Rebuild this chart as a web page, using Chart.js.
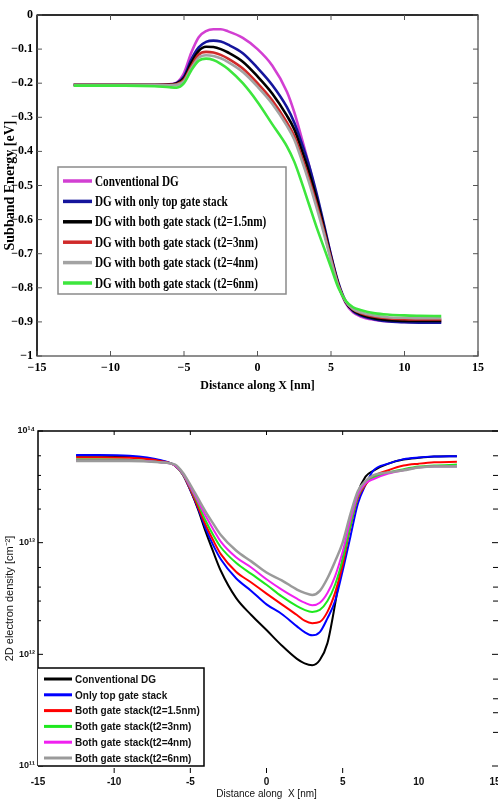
<!DOCTYPE html>
<html>
<head>
<meta charset="utf-8">
<script src="https://cdn.jsdelivr.net/npm/chart.js@4.4.1/dist/chart.umd.min.js"></script>
<style>
  html, body { margin: 0; padding: 0; background: #fff; }
  #topWrap { position: absolute; left: 0; top: 0; width: 498px; height: 400px; }
  #bottomWrap { position: absolute; left: 0; top: 400px; width: 498px; height: 408px; }
</style>
</head>
<body>
<div id="topWrap"><canvas id="energyChart"></canvas></div>
<div id="bottomWrap"><canvas id="densityChart"></canvas></div>
<script>
// --- top panel: subband energy [eV] along X [nm]
const energyX = [-12.5, -11, -9, -7, -6, -5.5, -5, -4.5, -4, -3.5, -3, -2.5, -2, -1, 0, 1, 2, 2.5, 3, 3.5, 4, 4.5, 5, 5.5, 6, 6.5, 7, 8, 9, 10, 11, 12.5];
const energyConventional = [-0.205, -0.205, -0.205, -0.205, -0.203, -0.198, -0.17, -0.11, -0.065, -0.047, -0.042, -0.042, -0.048, -0.067, -0.1, -0.148, -0.225, -0.285, -0.36, -0.44, -0.53, -0.615, -0.705, -0.79, -0.845, -0.872, -0.884, -0.894, -0.899, -0.9, -0.9, -0.9];
const energyTopStack = [-0.205, -0.205, -0.205, -0.205, -0.204, -0.2, -0.18, -0.13, -0.095, -0.079, -0.075, -0.078, -0.087, -0.112, -0.155, -0.205, -0.27, -0.315, -0.375, -0.44, -0.52, -0.61, -0.705, -0.785, -0.84, -0.868, -0.881, -0.893, -0.899, -0.901, -0.902, -0.902];
const energyBoth15 = [-0.205, -0.205, -0.205, -0.205, -0.204, -0.201, -0.185, -0.14, -0.105, -0.093, -0.094, -0.1, -0.11, -0.137, -0.18, -0.23, -0.295, -0.335, -0.395, -0.46, -0.535, -0.62, -0.71, -0.79, -0.842, -0.866, -0.878, -0.89, -0.895, -0.897, -0.897, -0.897];
const energyBoth3 = [-0.205, -0.205, -0.205, -0.205, -0.205, -0.203, -0.19, -0.15, -0.116, -0.108, -0.11, -0.117, -0.128, -0.157, -0.2, -0.25, -0.315, -0.355, -0.415, -0.48, -0.552, -0.63, -0.715, -0.792, -0.84, -0.863, -0.874, -0.885, -0.89, -0.892, -0.893, -0.893];
const energyBoth4 = [-0.205, -0.205, -0.205, -0.205, -0.206, -0.205, -0.194, -0.156, -0.125, -0.118, -0.12, -0.127, -0.138, -0.167, -0.21, -0.26, -0.325, -0.365, -0.425, -0.49, -0.562, -0.638, -0.72, -0.795, -0.84, -0.862, -0.872, -0.882, -0.887, -0.888, -0.889, -0.889];
const energyBoth6 = [-0.207, -0.207, -0.207, -0.209, -0.212, -0.213, -0.2, -0.162, -0.134, -0.128, -0.132, -0.143, -0.158, -0.2, -0.255, -0.32, -0.385, -0.43, -0.49, -0.555, -0.62, -0.68, -0.74, -0.8, -0.838, -0.857, -0.865, -0.875, -0.879, -0.881, -0.882, -0.883];
const energyLabels = ['Conventional DG', 'DG with only top gate stack', 'DG with both gate stack (t2=1.5nm)', 'DG with both gate stack (t2=3nm)', 'DG with both gate stack (t2=4nm)', 'DG with both gate stack (t2=6nm)'];

// --- bottom panel: 2D electron density [cm^-2] along X [nm]
const densityX = [-12.5, -11, -9, -7, -6, -5.5, -5, -4.5, -4, -3.5, -3, -2, -1, 0, 1, 2, 2.5, 3, 3.5, 4, 4.5, 5, 5.5, 6, 6.5, 7, 8, 9, 10, 11, 12.5];
const densityConventional = [6.0e13, 6.0e13, 5.9e13, 5.4e13, 4.9e13, 4.1e13, 2.95e13, 2.0e13, 1.26e13, 8.3e12, 5.6e12, 3.2e12, 2.25e12, 1.65e12, 1.2e12, 9.1e11, 8.3e11, 8.0e11, 8.9e11, 1.26e12, 2.8e12, 7.1e12, 1.4e13, 2.8e13, 3.9e13, 4.4e13, 5.1e13, 5.55e13, 5.75e13, 5.9e13, 5.95e13];
const densityTopStack = [6.1e13, 6.1e13, 6.0e13, 5.5e13, 4.9e13, 4.1e13, 2.95e13, 2.05e13, 1.35e13, 9.5e12, 7.1e12, 4.8e12, 3.7e12, 2.8e12, 2.3e12, 1.78e12, 1.58e12, 1.48e12, 1.58e12, 2.1e12, 3.0e12, 5.6e12, 1.12e13, 2.24e13, 3.3e13, 4.4e13, 5.1e13, 5.6e13, 5.8e13, 5.9e13, 5.95e13];
const densityBoth15 = [5.8e13, 5.8e13, 5.75e13, 5.4e13, 4.9e13, 4.1e13, 3.0e13, 2.1e13, 1.45e13, 1.05e13, 7.9e12, 5.5e12, 4.4e12, 3.5e12, 2.8e12, 2.25e12, 2.0e12, 1.9e12, 1.95e12, 2.4e12, 3.55e12, 6.3e12, 1.38e13, 2.5e13, 3.3e13, 3.9e13, 4.45e13, 4.9e13, 5.1e13, 5.25e13, 5.3e13];
const densityBoth3 = [5.55e13, 5.55e13, 5.5e13, 5.25e13, 4.9e13, 4.1e13, 3.1e13, 2.25e13, 1.58e13, 1.17e13, 9.1e12, 6.6e12, 5.25e12, 4.2e12, 3.3e12, 2.7e12, 2.5e12, 2.4e12, 2.5e12, 3.0e12, 4.2e12, 7.1e12, 1.41e13, 2.6e13, 3.4e13, 3.8e13, 4.25e13, 4.55e13, 4.8e13, 4.9e13, 5.0e13];
const densityBoth4 = [5.45e13, 5.45e13, 5.45e13, 5.25e13, 4.9e13, 4.15e13, 3.15e13, 2.35e13, 1.74e13, 1.32e13, 1.02e13, 7.4e12, 6.0e12, 4.7e12, 3.8e12, 3.15e12, 2.9e12, 2.75e12, 2.9e12, 3.55e12, 5.0e12, 8.3e12, 1.58e13, 2.7e13, 3.4e13, 3.7e13, 4.15e13, 4.45e13, 4.7e13, 4.8e13, 4.8e13];
const densityBoth6 = [5.4e13, 5.4e13, 5.4e13, 5.25e13, 5.0e13, 4.25e13, 3.3e13, 2.5e13, 1.9e13, 1.48e13, 1.17e13, 8.5e12, 6.8e12, 5.4e12, 4.6e12, 3.8e12, 3.55e12, 3.4e12, 3.7e12, 4.8e12, 6.8e12, 1.0e13, 1.78e13, 2.9e13, 3.55e13, 4.0e13, 4.25e13, 4.45e13, 4.7e13, 4.8e13, 4.8e13];
const densityLabels = ['Conventional DG', 'Only top gate stack', 'Both gate stack(t2=1.5nm)', 'Both gate stack(t2=3nm)', 'Both gate stack(t2=4nm)', 'Both gate stack(t2=6nm)'];
const densityDecades = [1e11, 1e12, 1e13, 1e14];
const densityMinor = [2, 3, 4, 6];
const densityEdgeTicks = [-10, -5, 0, 5];

const toPoints = (xs, ys) => xs.map((x, i) => ({ x: x, y: ys[i] }));
const withMinus = v => (v < 0 ? '\u2212' + String(-v) : String(v));
const superDigits = '⁰¹²³⁴⁵⁶⁷⁸⁹';
const powerLabel = v => '10' + String(Math.round(Math.log10(v))).split('').map(d => superDigits[d]).join('');

const serif = 'Liberation Serif';
const sans = 'Liberation Sans';

// frame with inward ticks (top panel)
const energyFrame = {
  id: 'energyFrame',
  afterDatasetsDraw(chart) {
    const { ctx, chartArea: a, scales: { x, y } } = chart;
    ctx.save();
    ctx.lineWidth = 1.5;
    ctx.strokeStyle = '#6a6a6a';
    ctx.strokeRect(a.left, a.top, a.right - a.left, a.bottom - a.top);
    ctx.strokeStyle = '#111';
    ctx.beginPath();
    ctx.moveTo(a.left, a.top);
    ctx.lineTo(a.right, a.top);
    ctx.moveTo(a.left, a.top);
    ctx.lineTo(a.left, a.bottom);
    ctx.stroke();
    ctx.lineWidth = 1;
    ctx.strokeStyle = '#555';
    ctx.beginPath();
    x.ticks.forEach(t => {
      const px = x.getPixelForValue(t.value);
      ctx.moveTo(px, a.bottom); ctx.lineTo(px, a.bottom - 5);
      ctx.moveTo(px, a.top); ctx.lineTo(px, a.top + 5);
    });
    y.ticks.forEach(t => {
      const py = y.getPixelForValue(t.value);
      ctx.moveTo(a.right, py); ctx.lineTo(a.right - 5, py);
      ctx.moveTo(a.left, py); ctx.lineTo(a.left + 5, py);
    });
    ctx.stroke();

    // legend box inside the plot
    const lx = a.left + 21, ly = a.top + 152;
    ctx.lineWidth = 1.5;
    ctx.strokeStyle = '#8a8a8a';
    ctx.fillStyle = '#fff';
    ctx.fillRect(lx, ly, 228, 127);
    ctx.strokeRect(lx, ly, 228, 127);
    ctx.font = 'bold 14px "' + serif + '"';
    ctx.textBaseline = 'middle';
    chart.data.datasets.forEach((ds, i) => {
      const ry = ly + 14 + i * 20.4;
      ctx.strokeStyle = ds.borderColor;
      ctx.lineWidth = 3.5;
      ctx.beginPath();
      ctx.moveTo(lx + 5, ry); ctx.lineTo(lx + 34, ry);
      ctx.stroke();
      ctx.save();
      ctx.translate(lx + 37, ry + 1);
      ctx.scale(0.8, 1);
      ctx.fillStyle = '#000';
      ctx.fillText(ds.label, 0, 0);
      ctx.restore();
    });
    ctx.restore();
  }
};

const energySeries = [energyConventional, energyTopStack, energyBoth15, energyBoth3, energyBoth4, energyBoth6];
const energyColors = ['#d23fd2', '#15159c', '#000000', '#d02a2a', '#a3a3a3', '#3de63d'];

new Chart(document.getElementById('energyChart'), {
  type: 'line',
  data: {
    datasets: energySeries.map((s, i) => ({
      label: energyLabels[i],
      data: toPoints(energyX, s),
      borderColor: energyColors[i],
      backgroundColor: energyColors[i],
      borderWidth: 2.6,
      pointRadius: 0,
      cubicInterpolationMode: 'monotone',
      order: energySeries.length - 1 - i
    }))
  },
  options: {
    responsive: true,
    maintainAspectRatio: false,
    animation: false,
    layout: { padding: { top: 15, right: 20, left: 0, bottom: 0 } },
    plugins: { legend: { display: false }, tooltip: { enabled: false } },
    scales: {
      x: {
        type: 'linear', min: -15, max: 15,
        grid: { display: false, drawTicks: false },
        border: { display: false },
        ticks: { stepSize: 5, padding: 5, color: '#000', font: { family: serif, size: 12, weight: 'bold' }, callback: v => withMinus(v) },
        title: { display: true, text: 'Distance along X [nm]', color: '#000', font: { family: serif, size: 12, weight: 'bold' }, padding: { top: 0, bottom: 7 } },
        afterFit: s => { s.height = 44; s.paddingLeft = 0; s.paddingRight = 0; }
      },
      y: {
        min: -1, max: 0,
        grid: { display: false, drawTicks: false },
        border: { display: false },
        ticks: { stepSize: 0.1, padding: 4, color: '#000', font: { family: serif, size: 12, weight: 'bold' }, callback: v => withMinus(Number(v.toFixed(1))) },
        title: { display: true, text: 'Subband Energy [eV]', color: '#000', font: { family: serif, size: 14, weight: 'bold' }, padding: { top: 2, bottom: 0 } },
        afterFit: s => { s.width = 37; }
      }
    }
  },
  plugins: [energyFrame]
});

// axes, log ticks and legend (bottom panel)
const densityFrame = {
  id: 'densityFrame',
  afterDatasetsDraw(chart) {
    const { ctx, chartArea: a, scales: { x, y }, width } = chart;
    ctx.save();
    ctx.strokeStyle = '#000';
    ctx.lineWidth = 1.5;
    ctx.beginPath();
    ctx.moveTo(a.left, a.bottom);
    ctx.lineTo(a.left, a.top);
    ctx.lineTo(width, a.top);
    ctx.stroke();
    ctx.lineWidth = 1;
    ctx.beginPath();
    densityEdgeTicks.forEach(v => {
      const px = x.getPixelForValue(v);
      ctx.moveTo(px, a.top); ctx.lineTo(px, a.top + 4);
      ctx.moveTo(px, a.bottom + 2); ctx.lineTo(px, a.bottom + 7);
    });
    densityDecades.forEach((d, k) => {
      const py = y.getPixelForValue(d);
      ctx.moveTo(a.left, py); ctx.lineTo(a.left + 5, py);
      ctx.moveTo(a.right - 3, py); ctx.lineTo(a.right + 4, py);
      if (k < densityDecades.length - 1) {
        densityMinor.forEach(m => {
          const qy = y.getPixelForValue(d * m);
          ctx.moveTo(a.left, qy); ctx.lineTo(a.left + 3, qy);
          ctx.moveTo(a.right - 2, qy); ctx.lineTo(a.right + 3, qy);
        });
      }
    });
    ctx.stroke();

    // legend box in the lower left corner
    const lx = a.left, ly = a.bottom - 98, lw = 166;
    ctx.fillStyle = '#fff';
    ctx.fillRect(lx, ly, lw, 98);
    ctx.lineWidth = 1.5;
    ctx.strokeStyle = '#000';
    ctx.beginPath();
    ctx.moveTo(lx, ly); ctx.lineTo(lx + lw, ly); ctx.lineTo(lx + lw, a.bottom); ctx.lineTo(lx, a.bottom);
    ctx.stroke();
    ctx.font = 'bold 10px "' + sans + '"';
    ctx.textBaseline = 'middle';
    chart.data.datasets.forEach((ds, i) => {
      const ry = ly + 11 + i * 15.8;
      ctx.strokeStyle = ds.borderColor;
      ctx.lineWidth = 3;
      ctx.beginPath();
      ctx.moveTo(lx + 6, ry); ctx.lineTo(lx + 34, ry);
      ctx.stroke();
      ctx.fillStyle = '#111';
      ctx.fillText(ds.label, lx + 37, ry + 1);
    });
    ctx.restore();
  }
};

const densitySeries = [densityConventional, densityTopStack, densityBoth15, densityBoth3, densityBoth4, densityBoth6];
const densityColors = ['#000000', '#0000ff', '#ff0000', '#1ee81e', '#f020f0', '#9a9a9a'];

new Chart(document.getElementById('densityChart'), {
  type: 'line',
  data: {
    datasets: densitySeries.map((s, i) => ({
      label: densityLabels[i],
      data: toPoints(densityX, s),
      borderColor: densityColors[i],
      backgroundColor: densityColors[i],
      borderWidth: i === 5 ? 2.5 : 2,
      pointRadius: 0,
      cubicInterpolationMode: 'monotone',
      order: densitySeries.length - 1 - i
    }))
  },
  options: {
    responsive: true,
    maintainAspectRatio: false,
    animation: false,
    layout: { padding: { top: 31, right: 3, left: 0, bottom: 0 } },
    plugins: { legend: { display: false }, tooltip: { enabled: false } },
    scales: {
      x: {
        type: 'linear', min: -15, max: 15,
        grid: { display: false, drawTicks: false },
        border: { display: false },
        ticks: { stepSize: 5, padding: 10, color: '#111', font: { family: sans, size: 10, weight: 'bold' } },
        title: { display: true, text: 'Distance along  X [nm]', color: '#111', font: { family: sans, size: 10 }, padding: { top: 0, bottom: 8 } },
        afterFit: s => { s.height = 42; s.paddingLeft = 0; s.paddingRight = 0; }
      },
      y: {
        type: 'logarithmic', min: 1e11, max: 1e14,
        grid: { display: false, drawTicks: false },
        border: { display: false },
        afterBuildTicks: s => { s.ticks = densityDecades.map(v => ({ value: v })); },
        ticks: { padding: 3, color: '#111', font: { family: sans, size: 9, weight: 'bold' }, callback: v => powerLabel(v) },
        title: { display: true, text: '2D electron density [cm⁻²]', color: '#111', font: { family: sans, size: 11 }, padding: { top: 3, bottom: 0 } },
        afterFit: s => { s.width = 38; }
      }
    }
  },
  plugins: [densityFrame]
});
</script>
</body>
</html>
